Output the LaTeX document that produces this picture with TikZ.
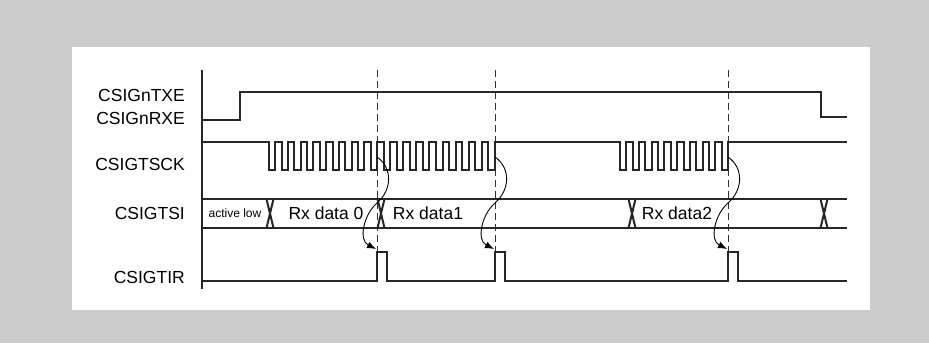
\documentclass[tikz,border=0pt]{standalone}
\usepackage{fontspec}
\setmainfont{Liberation Sans}
\usetikzlibrary{arrows.meta, positioning}
\definecolor{panelgray}{RGB}{204,204,204}
\tikzset{
  siglabel/.style={
    anchor=east, inner sep=0pt, font=\fontsize{17.5}{20}\selectfont
  },
  buslabel/.style={
    inner sep=0pt, font=\fontsize{17.5}{20}\selectfont
  },
  smalllabel/.style={
    inner sep=0pt, font=\fontsize{12}{14}\selectfont
  },
  sigline/.style={line width=2pt, color=black!85},
  axisline/.style={line width=1.7pt, color=black!85},
  markline/.style={line width=1pt, color=black!80, dash pattern=on 7pt off 4pt},
  causearrow/.style={-{Latex[length=9pt,width=7pt]}, line width=0.9pt},
}

\begin{document}
\begin{tikzpicture}[x=1pt, y=-1pt]
  % Panel
  \fill[panelgray] (0,0) rectangle (929,343);
  \fill[white] (72,47) rectangle (870,310);
  \useasboundingbox (0,0) rectangle (929,343);

  % Signal names
  \node[siglabel] (ntxe) at (185,95) {CSIGnTXE};
  \node[siglabel] (nrxe) at (185,118) {CSIGnRXE};
  \node[siglabel] (tsck) at (185,164) {CSIGTSCK};
  \node[siglabel] (tsi) at (185,213) {CSIGTSI};
  \node[siglabel] (tir) at (185,277) {CSIGTIR};

  % Time axis and markers
  \draw[axisline] (202,70) -- (202,289);
  \foreach \x in {377,495,728}
    \draw[markline] (\x,70) -- (\x,252);

  % CSIGnTXE / CSIGnRXE
  \draw[sigline] (202,120) -- (240,120) -- (240,92) -- (821,92)
    -- (821,117) -- (847,117);

  % CSIGTSCK
  \draw[sigline] (202,142) -- (269,142) -- (269,170)
    \foreach \i in {1,...,8} {
      -- ({269+(2*\i-1)*6.353},170) -- ({269+(2*\i-1)*6.353},142)
      -- ({269+2*\i*6.353},142) -- ({269+2*\i*6.353},170) }
    -- (377,170) -- (377,142)
    \foreach \i in {0,...,8} {
      -- ({377+(2*\i+1)*6.556},142) -- ({377+(2*\i+1)*6.556},170)
      -- ({377+(2*\i+2)*6.556},170) -- ({377+(2*\i+2)*6.556},142) }
    -- (620,142) -- (620,170)
    \foreach \i in {1,...,8} {
      -- ({620+(2*\i-1)*6.353},170) -- ({620+(2*\i-1)*6.353},142)
      -- ({620+2*\i*6.353},142) -- ({620+2*\i*6.353},170) }
    -- (728,170) -- (728,142) -- (847,142);

  % CSIGTSI
  \draw[sigline] (202,199) -- (847,199);
  \draw[sigline] (202,228) -- (847,228);
  \foreach \x in {270,381,632,824}
    \draw[sigline] ({\x-3.5},199) -- ({\x+3.5},228)
      ({\x+3.5},199) -- ({\x-3.5},228);
  \node[smalllabel] (actlow) at (235,213) {active low};
  \node[buslabel] (rxzero) at (326,213) {Rx data 0};
  \node[buslabel] (rxone) at (428,213) {Rx data1};
  \node[buslabel] (rxtwo) at (677,213) {Rx data2};

  % CSIGTIR
  \draw[sigline] (202,281) -- (377,281) -- (377,252) -- (387,252)
    -- (387,281) -- (495,281) -- (495,252) -- (505,252) -- (505,281)
    -- (728,281) -- (728,252) -- (738,252) -- (738,281) -- (847,281);

  % Clock end -> interrupt
  \foreach \x/\n in {377/a,495/b,728/c} {
    \coordinate (ck\n) at (\x,157);
    \coordinate (md\n) at (\x,203);
    \coordinate (ir\n) at ({\x-1},249);
    \draw[causearrow] (ck\n) .. controls +(16,11) and +(15,-13) .. (md\n)
      .. controls +(-13,11) and +(-18,-9) .. (ir\n);
  }
\end{tikzpicture}
\end{document}
